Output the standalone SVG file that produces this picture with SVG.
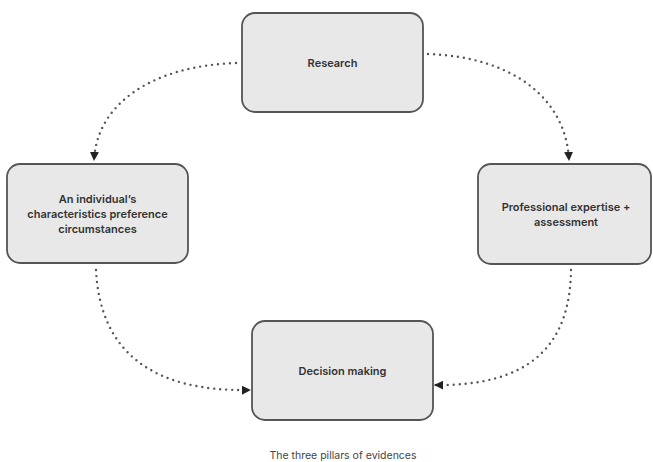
<svg xmlns="http://www.w3.org/2000/svg" width="653" height="462" viewBox="0 0 653 462">
  <style>
    .box { fill: #e8e8e8; stroke: #555; stroke-width: 1.8; }
    .lbl { font-family: Inter, "Liberation Sans", sans-serif; font-weight: 600; font-size: 11px; fill: #333; text-anchor: middle; }
    .cap { font-family: Inter, "Liberation Sans", sans-serif; font-size: 10.5px; fill: #444; text-anchor: middle; }
    .link { fill: none; stroke: #555; stroke-width: 2.4; stroke-linecap: round; stroke-dasharray: 0 6; }
  </style>
  <defs>
    <marker id="arrow" viewBox="0 0 10 10" refX="9" refY="5" markerWidth="9" markerHeight="9" markerUnits="userSpaceOnUse" orient="auto">
      <path d="M0,0 L10,5 L0,10 Z" fill="#222"/>
    </marker>
  </defs>
  <rect width="653" height="462" fill="#fff"/>

  <g id="connectors">
    <path class="link" d="M236,63 C150,66 97,105 94,160" marker-end="url(#arrow)"/>
    <path class="link" d="M428,54 C515,57 566,100 569,160" marker-end="url(#arrow)"/>
    <path class="link" d="M96,270 C100,350 150,392 250,390" marker-end="url(#arrow)"/>
    <path class="link" d="M571,270 C570,350 525,386 435,385" marker-end="url(#arrow)"/>
  </g>

  <g id="research">
    <rect class="box" x="242" y="13" width="181" height="99" rx="13"/>
    <text class="lbl" x="332.5" y="67">Research</text>
  </g>

  <g id="individual">
    <rect class="box" x="7" y="164" width="181" height="99" rx="13"/>
    <text class="lbl" x="97.5" y="203">An individual’s</text>
    <text class="lbl" x="97.5" y="218">characteristics preference</text>
    <text class="lbl" x="97.5" y="233">circumstances</text>
  </g>

  <g id="expertise">
    <rect class="box" x="478" y="164" width="173" height="100" rx="13"/>
    <text class="lbl" x="566" y="211">Professional expertise +</text>
    <text class="lbl" x="566" y="226">assessment</text>
  </g>

  <g id="decision">
    <rect class="box" x="252" y="321" width="181" height="99" rx="13"/>
    <text class="lbl" x="342.5" y="375">Decision making</text>
  </g>

  <text class="cap" x="343" y="459">The three pillars of evidences</text>
</svg>
